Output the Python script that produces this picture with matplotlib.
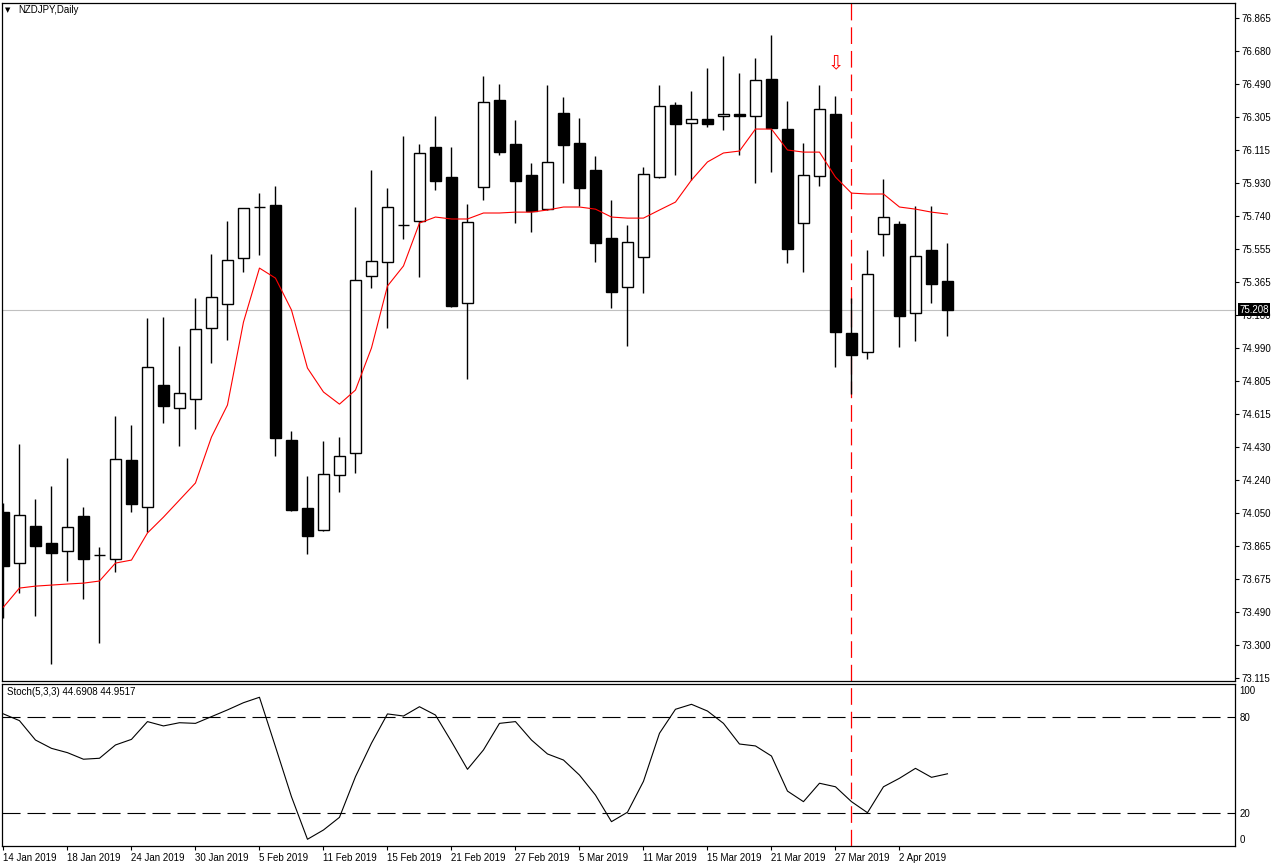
import numpy as np
import matplotlib.pyplot as plt
import matplotlib.transforms as mtransforms

plt.rcParams['lines.scale_dashes'] = False
plt.rcParams['font.family'] = ['Liberation Sans', 'DejaVu Sans']

# NZDJPY daily bars, 14 Jan 2019 .. 5 Apr 2019
opens = [74.058, 73.768, 73.978, 73.882, 73.836, 74.035, 73.813, 73.791, 74.353, 74.086,
         74.779, 74.649, 74.700, 75.103, 75.240, 75.501, 75.791, 75.802, 74.467, 74.081,
         73.956, 74.268, 74.393, 75.399, 75.478, 75.689, 75.711, 76.132, 75.961, 75.245,
         75.904, 76.399, 76.149, 75.973, 75.779, 76.325, 76.154, 76.001, 75.615, 75.336,
         75.507, 75.961, 76.370, 76.268, 76.291, 76.308, 76.319, 76.308, 76.518, 76.234,
         75.700, 75.967, 76.319, 75.075, 74.967, 75.637, 75.694, 75.189, 75.546, 75.370]
highs = [74.109, 74.444, 74.132, 74.206, 74.365, 74.086, 73.859, 74.603, 74.552, 75.160,
         75.166, 75.001, 75.274, 75.524, 75.711, 75.785, 75.870, 75.910, 74.518, 74.262,
         74.461, 74.484, 75.791, 76.001, 75.899, 76.194, 76.149, 76.308, 76.132, 75.808,
         76.535, 76.490, 76.285, 76.041, 76.484, 76.416, 76.297, 76.081, 75.831, 75.689,
         76.018, 76.484, 76.387, 76.450, 76.581, 76.649, 76.552, 76.637, 76.768, 76.393,
         76.154, 76.484, 76.422, 75.274, 75.546, 75.950, 75.711, 75.797, 75.797, 75.586]
lows = [73.456, 73.598, 73.467, 73.194, 73.666, 73.563, 73.313, 73.717, 74.058, 73.944,
        74.564, 74.433, 74.529, 74.904, 75.035, 75.421, 75.518, 74.376, 74.065, 73.819,
        73.950, 74.171, 74.279, 75.331, 75.103, 75.609, 75.393, 75.887, 75.225, 74.814,
        75.831, 76.086, 75.700, 75.649, 75.775, 75.927, 75.797, 75.478, 75.217, 75.001,
        75.302, 75.956, 75.973, 75.944, 76.245, 76.228, 76.086, 75.927, 75.990, 75.473,
        75.421, 75.910, 74.882, 74.728, 74.927, 75.512, 74.995, 75.029, 75.245, 75.058]
closes = [73.751, 74.041, 73.865, 73.825, 73.973, 73.791, 73.815, 74.359, 74.103, 74.882,
          74.660, 74.734, 75.098, 75.279, 75.490, 75.785, 75.789, 74.478, 74.069, 73.921,
          74.274, 74.376, 75.376, 75.484, 75.791, 75.690, 76.098, 75.939, 75.228, 75.706,
          76.387, 76.103, 75.939, 75.768, 76.047, 76.143, 75.899, 75.586, 75.308, 75.592,
          75.978, 76.365, 76.262, 76.291, 76.262, 76.319, 76.308, 76.512, 76.240, 75.552,
          75.973, 76.348, 75.081, 74.950, 75.410, 75.734, 75.171, 75.512, 75.353, 75.208]

# red moving average
ma = [73.518, 73.626, 73.637, 73.643, 73.649, 73.654, 73.666, 73.768, 73.785, 73.939,
      74.029, 74.126, 74.223, 74.484, 74.666, 75.137, 75.444, 75.387, 75.206, 74.876,
      74.740, 74.671, 74.751, 74.990, 75.342, 75.456, 75.700, 75.734, 75.723, 75.723,
      75.757, 75.757, 75.762, 75.762, 75.774, 75.791, 75.791, 75.779, 75.734, 75.728,
      75.728, 75.774, 75.819, 75.944, 76.047, 76.098, 76.109, 76.234, 76.234, 76.115,
      76.103, 76.103, 75.961, 75.870, 75.865, 75.865, 75.791, 75.779, 75.762, 75.751]

# Stoch(5,3,3) main line
stoch = [82.1, 77.9, 65.8, 60.6, 57.9, 53.8, 54.4, 62.7, 66.2, 77.3,
         74.6, 76.6, 76.2, 80.4, 84.6, 89.1, 92.5, 61.6, 30.4, 3.8,
         9.6, 17.5, 42.9, 63.8, 82.1, 80.8, 86.6, 81.4, 64.8, 47.5,
         59.6, 76.2, 77.3, 65.8, 57.1, 53.3, 43.9, 31.4, 14.8, 20.7,
         40.0, 70.0, 85.0, 88.1, 83.9, 76.2, 63.3, 62.1, 55.8, 33.9,
         27.3, 38.8, 36.6, 27.3, 20.4, 36.6, 41.9, 48.1, 42.5, 44.7]

date_labels = ['14 Jan 2019', '18 Jan 2019', '24 Jan 2019', '30 Jan 2019', '5 Feb 2019',
               '11 Feb 2019', '15 Feb 2019', '21 Feb 2019', '27 Feb 2019', '5 Mar 2019',
               '11 Mar 2019', '15 Mar 2019', '21 Mar 2019', '27 Mar 2019', '2 Apr 2019']
price_labels = ['73.115', '73.300', '73.490', '73.675', '73.865', '74.050', '74.240',
                '74.430', '74.615', '74.805', '74.990', '75.180', '75.365', '75.555',
                '75.740', '75.930', '76.115', '76.305', '76.490', '76.680', '76.865']
bid = 75.208
marked_bar = 53
arrow_bar = 52

opens, highs, lows, closes = map(np.array, (opens, highs, lows, closes))
x = np.arange(len(closes))

W, H = 1276, 867
fig = plt.figure(figsize=(W / 100, H / 100), dpi=100)


def box(l, t, r, b):
    return [l / W, 1 - b / H, (r - l) / W, (b - t) / H]


ax = fig.add_axes(box(2.5, 2.5, 1235, 681))
ax2 = fig.add_axes(box(2.5, 683.5, 1235, 846))

# candles
ax.vlines(x, lows, highs, color='black', lw=1.0, zorder=2)
up = closes >= opens
ax.bar(x, np.abs(closes - opens), bottom=np.minimum(opens, closes), width=0.66,
       color=np.where(up, 'white', 'black'), edgecolor='black', linewidth=1.0, zorder=3)
ax.plot(x, ma, color='red', lw=0.8, zorder=4)

ax.axhline(bid, color='#c0c0c0', lw=0.8, zorder=1)
ax.axvline(marked_bar, color='red', lw=0.9, ls=(0, (12, 5)), zorder=1)
ax.text(arrow_bar, highs[arrow_bar] + 0.18, '\u21e9', color='red', ha='center', va='center',
        fontsize=14, family='DejaVu Sans', zorder=5)

ax.set_xlim(-0.06, 76.97)
ax.set_ylim(73.098, 76.953)
ax.set_xticks([])
ax.yaxis.tick_right()
ax.set_yticks(np.linspace(73.115, 76.865, len(price_labels)))
ax.set_yticklabels(price_labels)
ax.tick_params(axis='y', length=3, width=0.8, pad=2, labelsize=7)

# current bid price box on the price scale
trans = mtransforms.blended_transform_factory(ax.transAxes, ax.transData)
ax.text(1.0035, bid, f'{bid:.3f}', transform=trans, ha='left', va='center', color='white',
        fontsize=7, zorder=6, clip_on=False,
        bbox=dict(facecolor='black', edgecolor='none', pad=1.2))

fig.text(8 / W, 1 - 10 / H, '\u25bc', fontsize=5, ha='center', va='center', family='DejaVu Sans')
fig.text(18 / W, 1 - 10 / H, 'NZDJPY,Daily', fontsize=7, va='center')

# stochastic panel
ax2.plot(x, stoch, color='black', lw=0.8)
ax2.axhline(80, color='black', lw=0.8, ls=(0, (13, 5)))
ax2.axhline(20, color='black', lw=0.8, ls=(0, (13, 5)))
ax2.axvline(marked_bar, color='red', lw=0.9, ls=(0, (12, 5)))
ax2.set_xlim(-0.06, 76.97)
ax2.set_ylim(-0.4, 101.1)
ax2.yaxis.tick_right()
ax2.set_yticks([3.9, 20, 80, 97.1])
ax2.set_yticklabels(['0', '20', '80', '100'])
ax2.tick_params(axis='y', length=0, pad=3, labelsize=7)
ax2.set_xticks(x[::4])
ax2.set_xticklabels(date_labels, ha='left')
ax2.tick_params(axis='x', length=3, width=0.8, pad=2, labelsize=7)
fig.text(7 / W, 1 - 692 / H, 'Stoch(5,3,3) 44.6908 44.9517', fontsize=7, va='center')

for a in (ax, ax2):
    for s in a.spines.values():
        s.set_linewidth(0.9)

fig.savefig('out.png', dpi=100)
